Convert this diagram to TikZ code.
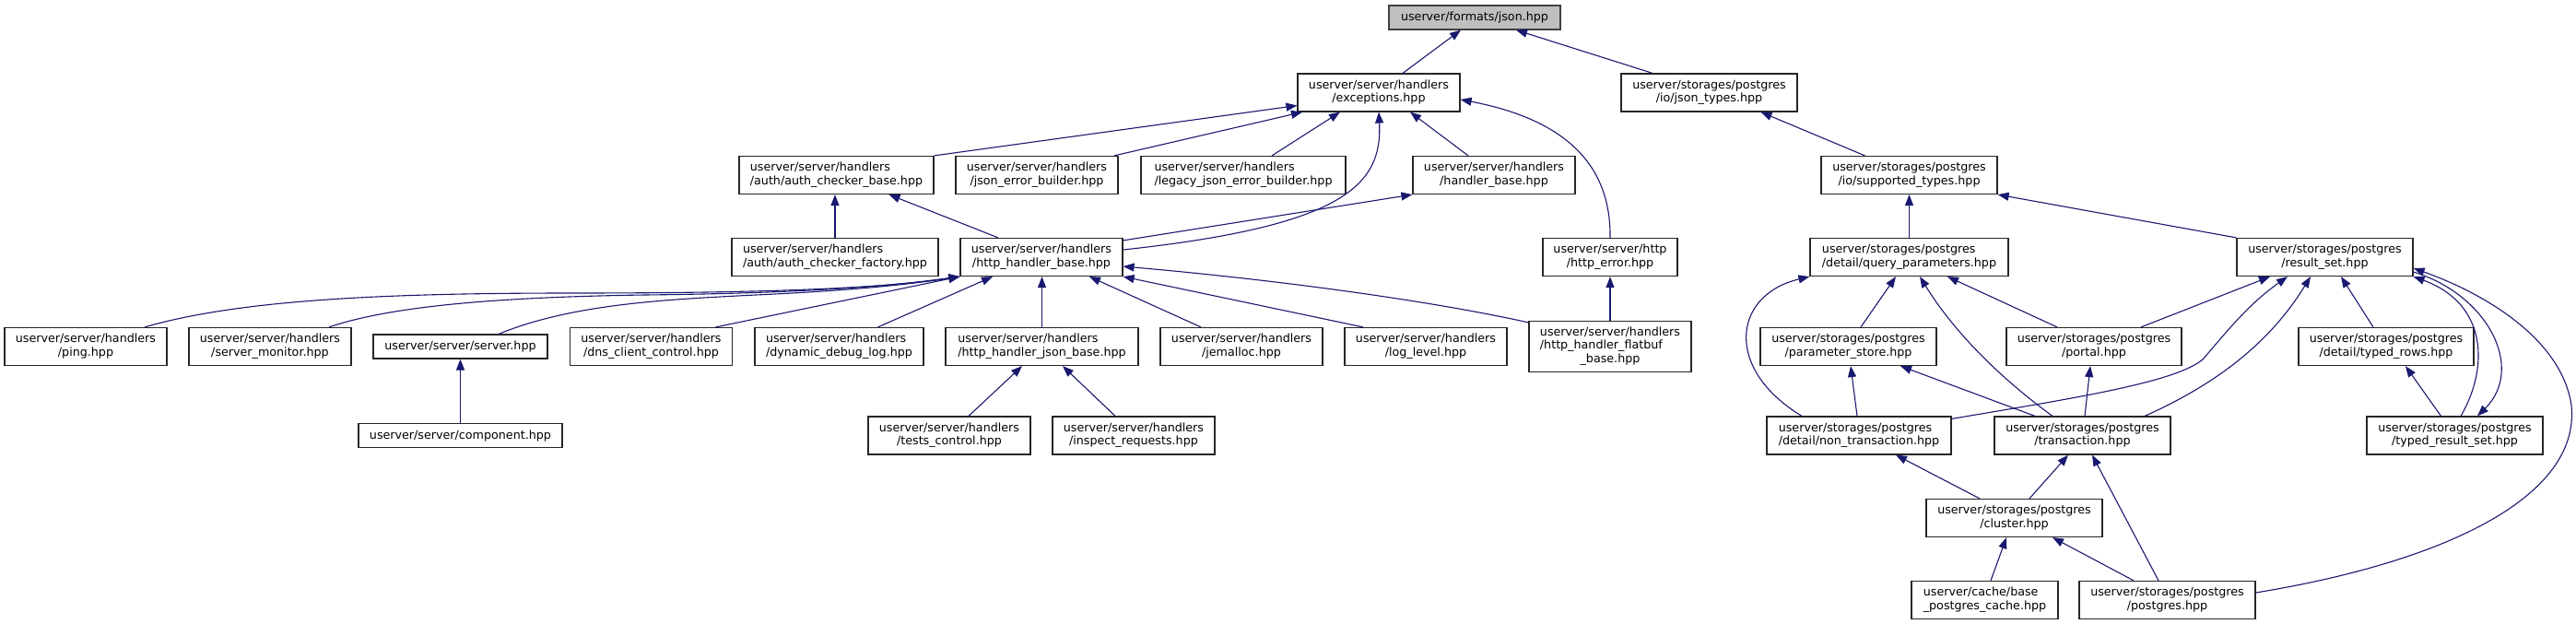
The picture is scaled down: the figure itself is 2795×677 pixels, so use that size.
\documentclass[tikz,border=0pt]{standalone}
\usepackage{fontspec}
\setmainfont{DejaVu Sans}
\usetikzlibrary{arrows.meta}
\definecolor{edgeblue}{HTML}{191970}
\definecolor{rootgray}{HTML}{BFBFBF}
% label lines: first ones left, last one centred
\newcommand{\twolbl}[2]{\begin{tabular}{@{}l@{}}#1\\\multicolumn{1}{@{}c@{}}{#2}\end{tabular}}
\newcommand{\threelbl}[3]{\begin{tabular}{@{}l@{}}#1\\#2\\\multicolumn{1}{@{}c@{}}{#3}\end{tabular}}
\tikzset{
  filebox/.style={draw=black!85, line width=1.2pt, fill=white, inner sep=0pt,
    minimum height=41pt, font=\fontsize{12.7}{14.4}\selectfont},
  rootbox/.style={filebox, fill=rootgray, draw=black!75, minimum height=26pt},
  onebox/.style={filebox, minimum height=26pt},
  edge/.style={draw=edgeblue, line width=1.1pt, -{Triangle[length=12pt,width=9pt]}}
}
\begin{document}
\begin{tikzpicture}[x=1pt, y=-1pt]
    \useasboundingbox (0,0) rectangle (2795,677);
    % Root file
    \node[rootbox, minimum width=186pt] (json) at (1600,19) {userver/formats/json.hpp};
    % Rank 1
    \node[filebox, minimum width=176pt] (exc) at (1496,100.5) {\twolbl{userver/server/handlers}{/exceptions.hpp}};
    \node[filebox, minimum width=191pt] (jtypes) at (1854.5,100.5) {\twolbl{userver/storages/postgres}{/io/json\_types.hpp}};
    % Rank 2
    \node[filebox, minimum width=211pt] (acb) at (907.5,190) {\twolbl{userver/server/handlers}{/auth/auth\_checker\_base.hpp}};
    \node[filebox, minimum width=176pt] (jeb) at (1125,190) {\twolbl{userver/server/handlers}{/json\_error\_builder.hpp}};
    \node[filebox, minimum width=222pt] (ljeb) at (1349,190) {\twolbl{userver/server/handlers}{/legacy\_json\_error\_builder.hpp}};
    \node[filebox, minimum width=176pt] (hb) at (1621,190) {\twolbl{userver/server/handlers}{/handler\_base.hpp}};
    \node[filebox, minimum width=191pt] (stypes) at (2071.5,190) {\twolbl{userver/storages/postgres}{/io/supported\_types.hpp}};
    % Rank 3
    \node[filebox, minimum width=224pt] (acf) at (906,279) {\twolbl{userver/server/handlers}{/auth/auth\_checker\_factory.hpp}};
    \node[filebox, minimum width=176pt] (hhb) at (1130,279) {\twolbl{userver/server/handlers}{/http\_handler\_base.hpp}};
    \node[filebox, minimum width=146pt] (herr) at (1747,279) {\twolbl{userver/server/http}{/http\_error.hpp}};
    \node[filebox, minimum width=215pt] (qp) at (2071.5,279) {\twolbl{userver/storages/postgres}{/detail/query\_parameters.hpp}};
    \node[filebox, minimum width=191pt] (rs) at (2522.5,279) {\twolbl{userver/storages/postgres}{/result\_set.hpp}};
    % Rank 4
    \node[filebox, minimum width=176pt] (ping) at (93,376) {\twolbl{userver/server/handlers}{/ping.hpp}};
    \node[filebox, minimum width=176pt] (smon) at (293,376) {\twolbl{userver/server/handlers}{/server\_monitor.hpp}};
    \node[onebox, minimum width=189pt] (srv) at (499.5,376) {userver/server/server.hpp};
    \node[filebox, minimum width=176pt] (dns) at (706.5,376) {\twolbl{userver/server/handlers}{/dns\_client\_control.hpp}};
    \node[filebox, minimum width=183pt] (ddl) at (910.5,376) {\twolbl{userver/server/handlers}{/dynamic\_debug\_log.hpp}};
    \node[filebox, minimum width=209pt] (hjb) at (1130.5,376) {\twolbl{userver/server/handlers}{/http\_handler\_json\_base.hpp}};
    \node[filebox, minimum width=176pt] (jem) at (1347,376) {\twolbl{userver/server/handlers}{/jemalloc.hpp}};
    \node[filebox, minimum width=176pt] (logl) at (1547,376) {\twolbl{userver/server/handlers}{/log\_level.hpp}};
    \node[filebox, minimum width=176pt, minimum height=55pt] (flat) at (1747,376) {\threelbl{userver/server/handlers}{/http\_handler\_flatbuf}{\_base.hpp}};
    \node[filebox, minimum width=191pt] (pstore) at (2005.5,376) {\twolbl{userver/storages/postgres}{/parameter\_store.hpp}};
    \node[filebox, minimum width=190pt] (portal) at (2272,376) {\twolbl{userver/storages/postgres}{/portal.hpp}};
    \node[filebox, minimum width=190pt] (trows) at (2589,376) {\twolbl{userver/storages/postgres}{/detail/typed\_rows.hpp}};
    % Rank 5
    \node[onebox, minimum width=221pt] (comp) at (499.5,472.5) {userver/server/component.hpp};
    \node[filebox, minimum width=176pt] (tctl) at (1030,472.5) {\twolbl{userver/server/handlers}{/tests\_control.hpp}};
    \node[filebox, minimum width=176pt] (ireq) at (1230,472.5) {\twolbl{userver/server/handlers}{/inspect\_requests.hpp}};
    \node[filebox, minimum width=200pt] (ntx) at (2017,472.5) {\twolbl{userver/storages/postgres}{/detail/non\_transaction.hpp}};
    \node[filebox, minimum width=191pt] (tx) at (2259.5,472.5) {\twolbl{userver/storages/postgres}{/transaction.hpp}};
    \node[filebox, minimum width=191pt] (trs) at (2663.5,472.5) {\twolbl{userver/storages/postgres}{/typed\_result\_set.hpp}};
    % Rank 6 and 7
    \node[filebox, minimum width=191pt] (cluster) at (2185.5,562) {\twolbl{userver/storages/postgres}{/cluster.hpp}};
    \node[filebox, minimum width=159pt] (bpc) at (2153.5,651) {\twolbl{userver/cache/base}{\_postgres\_cache.hpp}};
    \node[filebox, minimum width=191pt] (pg) at (2351.5,651) {\twolbl{userver/storages/postgres}{/postgres.hpp}};

    % Include edges, server side
    \draw[edge] ([xshift=26pt]exc.north) -- ([xshift=-15pt]json.south);
    \draw[edge] ([xshift=-61.5pt]jtypes.north) -- ([xshift=45pt]json.south);
    \draw[edge] (acb.north east) -- ([yshift=-14pt]exc.west);
    \draw[edge] ([xshift=84pt]jeb.north) -- ([xshift=-83pt]exc.south);
    \draw[edge] ([xshift=31pt]ljeb.north) -- ([xshift=-42pt]exc.south);
    \draw[edge] ([xshift=-28pt]hb.north) -- ([xshift=34pt]exc.south);
    \draw[edge] ([yshift=8pt]hhb.east) .. controls (1460,245) and (1500,200) .. (exc.south);
    \draw[edge] (herr.north) .. controls (1748,180) and (1700,130) .. ([yshift=-7.5pt]exc.east);
    \draw[edge] (acf.north) -- (acf.north |- acb.south);
    \draw[edge] ([xshift=-47pt]hhb.north) -- ([xshift=57pt]acb.south);
    \draw[edge] ([yshift=-3pt]hhb.north east) -- (hb.south west);
    \draw[edge] ([xshift=64pt]ping.north) .. controls (260,325) and (420,318) .. (620,318)
      .. controls (850,318) and (960,312) .. (hhb.south west);
    \draw[edge] ([xshift=64pt]smon.north) .. controls (430,330) and (560,322) .. (700,320)
      .. controls (880,318) and (970,310) .. (hhb.south west);
    \draw[edge] ([xshift=41.5pt]srv.north) .. controls (620,330) and (720,325) .. (820,320)
      .. controls (930,315) and (990,308) .. (hhb.south west);
    \draw[edge] ([xshift=70pt]dns.north) -- (hhb.south west);
    \draw[edge] ([xshift=42pt]ddl.north) -- ([xshift=-53pt]hhb.south);
    \draw[edge] (hjb.north) -- (hjb.north |- hhb.south);
    \draw[edge] ([xshift=-44pt]jem.north) -- ([xshift=52pt]hhb.south);
    \draw[edge] ([xshift=-68pt]logl.north) -- (hhb.south east);
    \draw[edge] ([yshift=-2pt]flat.north west) .. controls (1560,328) and (1400,305) .. ([yshift=-10pt]hhb.east);
    \draw[edge] (flat.north) -- (herr.south);
    \draw[edge] (comp.north) -- (srv.south);
    \draw[edge] ([xshift=21pt]tctl.north) -- ([xshift=-21.5pt]hjb.south);
    \draw[edge] ([xshift=-20pt]ireq.north) -- ([xshift=22.5pt]hjb.south);

    % Include edges, postgres side
    \draw[edge] ([xshift=-48pt]stypes.north) -- ([xshift=56pt]jtypes.south);
    \draw[edge] (qp.north) -- (stypes.south);
    \draw[edge] (rs.north west) -- (stypes.south east);
    \draw[edge] ([xshift=13.5pt]pstore.north) -- ([xshift=-14.5pt]qp.south);
    \draw[edge] ([xshift=-40pt]portal.north) -- ([xshift=41.5pt]qp.south);
    \draw[edge] ([xshift=-62pt]ntx.north) .. controls (1870,400) and (1880,320) .. (qp.south west);
    \draw[edge] ([xshift=-32.5pt]tx.north) .. controls (2170,410) and (2120,360) .. ([xshift=11.5pt]qp.south);
    \draw[edge] ([xshift=51pt]portal.north) -- ([xshift=-59.5pt]rs.south);
    \draw[edge] ([yshift=-3pt]ntx.north east) .. controls (2250,432) and (2360,415) .. (2390,390)
      .. controls (2420,355) and (2440,330) .. ([xshift=-40.5pt]rs.south);
    \draw[edge] ([xshift=67.5pt]tx.north) .. controls (2420,410) and (2470,360) .. ([xshift=-15.5pt]rs.south);
    \draw[edge] ([xshift=-14pt]trows.north) -- ([xshift=17.5pt]rs.south);
    \draw[edge] ([xshift=6.5pt]trs.north) .. controls (2700,400) and (2700,330) .. (rs.south east);
    \draw[edge] ([yshift=-16pt]rs.east) .. controls (2700,320) and (2740,400) .. ([xshift=24.5pt]trs.north);
    \draw[edge] ([yshift=8pt]pg.east) .. controls (2650,610) and (2800,540) .. (2790,440)
      .. controls (2780,370) and (2700,320) .. ([yshift=-12pt]rs.east);
    \draw[edge] ([xshift=-15pt]trs.north) -- ([xshift=21pt]trows.south);
    \draw[edge] ([xshift=-2pt]ntx.north) -- ([xshift=2.5pt]pstore.south);
    \draw[edge] ([xshift=-51.5pt]tx.north) -- ([xshift=56.5pt]pstore.south);
    \draw[edge] ([xshift=2.5pt]tx.north) -- ([xshift=-4pt]portal.south);
    \draw[edge] ([xshift=-37.5pt]cluster.north) -- ([xshift=40pt]ntx.south);
    \draw[edge] ([xshift=16.5pt]cluster.north) -- ([xshift=-15.5pt]tx.south);
    \draw[edge] ([xshift=6.5pt]bpc.north) -- ([xshift=-8.5pt]cluster.south);
    \draw[edge] ([xshift=-36.5pt]pg.north) -- ([xshift=41.5pt]cluster.south);
    \draw[edge] ([xshift=-9.5pt]pg.north) -- ([xshift=10.5pt]tx.south);
\end{tikzpicture}
\end{document}
